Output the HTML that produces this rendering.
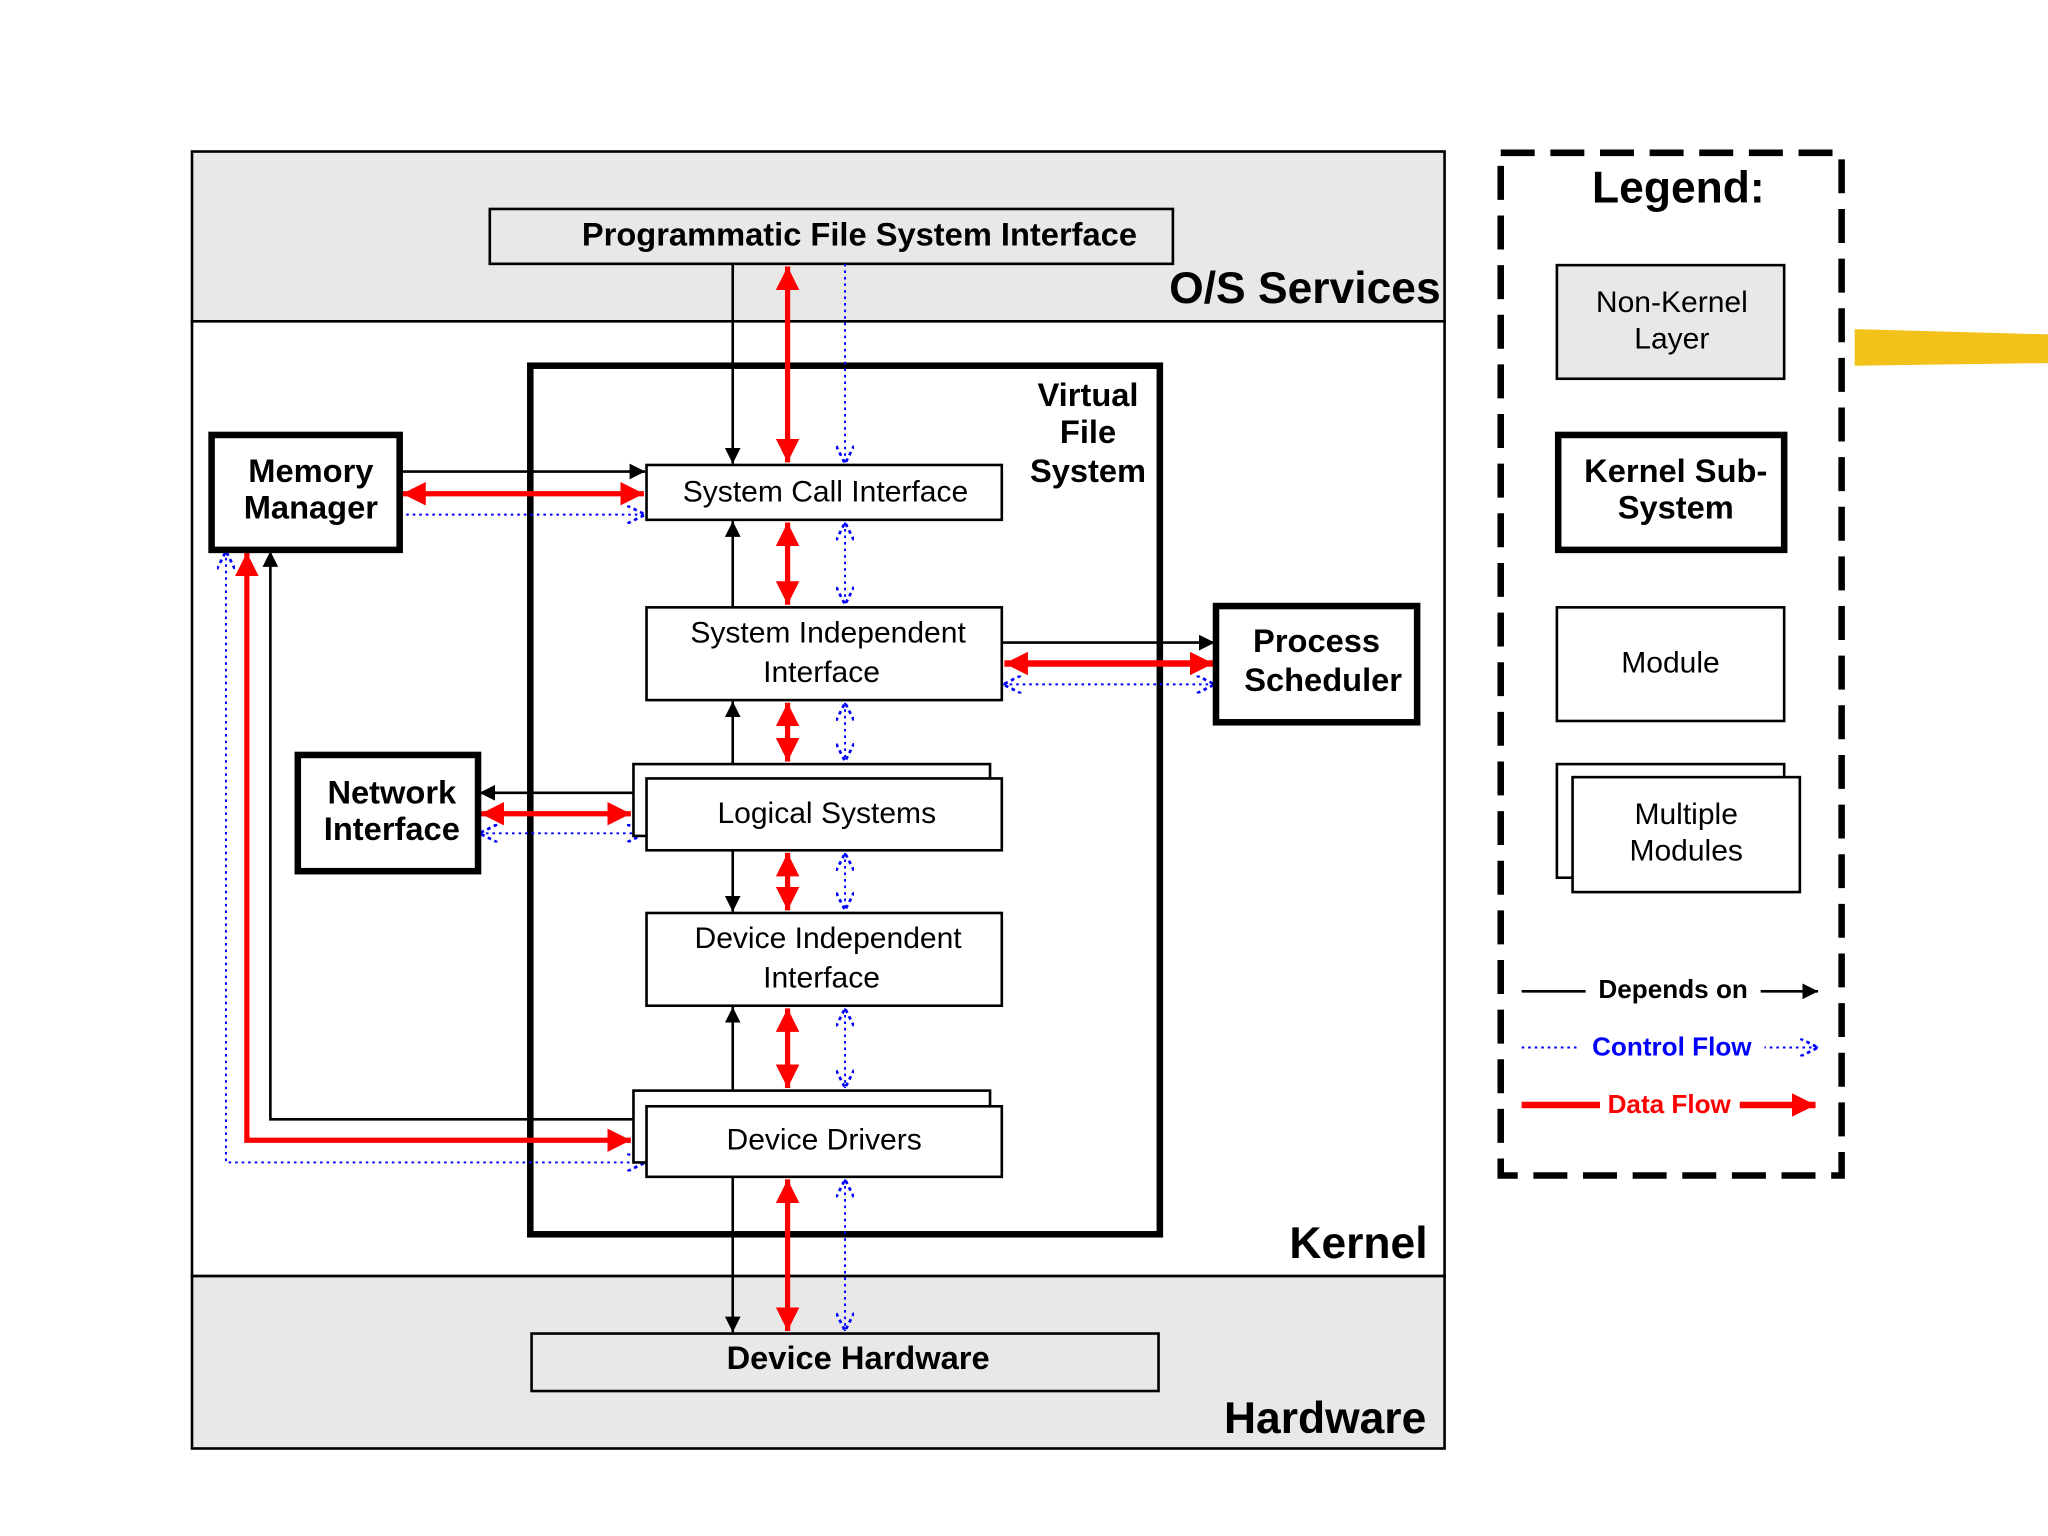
<!DOCTYPE html>
<html><head><meta charset="utf-8"><style>
html,body{margin:0;padding:0;background:#fff;}
svg{display:block;}
text{font-family:"Liberation Sans",sans-serif;}
.m{font-size:23px;fill:#000;}
.b{font-size:25px;font-weight:bold;fill:#000;}
</style></head><body>
<svg width="2048" height="1536" viewBox="0 0 1568 1176" xmlns="http://www.w3.org/2000/svg">
<defs>
<marker id="ak" viewBox="0 0 10 10" refX="10" refY="5" markerWidth="12" markerHeight="12" markerUnits="userSpaceOnUse" orient="auto-start-reverse"><path d="M0,0L10,5L0,10z" fill="#000"/></marker>
<marker id="ar" viewBox="0 0 10 10" refX="10" refY="5" markerWidth="18" markerHeight="18" markerUnits="userSpaceOnUse" orient="auto-start-reverse"><path d="M0,0L10,5L0,10z" fill="#f00"/></marker>
<marker id="ab" viewBox="0 0 10 10" refX="10" refY="5" markerWidth="14" markerHeight="14" markerUnits="userSpaceOnUse" orient="auto-start-reverse"><path d="M0,0L10,5L0,10" fill="none" stroke="#00f" stroke-width="1.5" stroke-dasharray="2,2"/></marker>
</defs>
<rect width="1568" height="1176" fill="#fff"/>
<!-- yellow scribble -->
<path d="M1420,252 L1568,256 L1568,278 L1420,280z" fill="#f2c21a"/>
<!-- outer bands -->
<rect x="147" y="116" width="959" height="130" fill="#e8e8e8" stroke="#000" stroke-width="2"/>
<rect x="147" y="246" width="959" height="731" fill="#fff" stroke="#000" stroke-width="2"/>
<rect x="147" y="977" width="959" height="132" fill="#e8e8e8" stroke="#000" stroke-width="2"/>
<text x="1103" y="232" text-anchor="end" style="font-size:34px;font-weight:bold">O/S Services</text>
<text x="1093" y="963" text-anchor="end" style="font-size:34px;font-weight:bold">Kernel</text>
<text x="1092" y="1097" text-anchor="end" style="font-size:34px;font-weight:bold">Hardware</text>
<rect x="375" y="160" width="523" height="42" fill="#e8e8e8" stroke="#000" stroke-width="2"/>
<text x="658" y="188" text-anchor="middle" class="b">Programmatic File System Interface</text>
<!-- VFS -->
<rect x="406" y="280" width="482" height="665" fill="none" stroke="#000" stroke-width="5"/>
<text x="833" y="311" text-anchor="middle" class="b">Virtual</text>
<text x="833" y="339" text-anchor="middle" class="b">File</text>
<text x="833" y="369" text-anchor="middle" class="b">System</text>
<!-- connectors vertical -->
<g fill="none">
<line x1="561" y1="202" x2="561" y2="355" stroke="#000" stroke-width="2" marker-end="url(#ak)"/>
<line x1="603" y1="204" x2="603" y2="354" stroke="#f00" stroke-width="4" marker-start="url(#ar)" marker-end="url(#ar)"/>
<line x1="647" y1="202" x2="647" y2="355" stroke="#00f" stroke-width="1.5" stroke-dasharray="2,3" marker-end="url(#ab)"/>
<line x1="561" y1="465" x2="561" y2="399" stroke="#000" stroke-width="2" marker-end="url(#ak)"/>
<line x1="603" y1="400" x2="603" y2="463" stroke="#f00" stroke-width="4" marker-start="url(#ar)" marker-end="url(#ar)"/>
<line x1="647" y1="400" x2="647" y2="463" stroke="#00f" stroke-width="1.5" stroke-dasharray="2,3" marker-start="url(#ab)" marker-end="url(#ab)"/>
<line x1="561" y1="585" x2="561" y2="537" stroke="#000" stroke-width="2" marker-end="url(#ak)"/>
<line x1="603" y1="538" x2="603" y2="583" stroke="#f00" stroke-width="4" marker-start="url(#ar)" marker-end="url(#ar)"/>
<line x1="647" y1="538" x2="647" y2="583" stroke="#00f" stroke-width="1.5" stroke-dasharray="2,3" marker-start="url(#ab)" marker-end="url(#ab)"/>
<line x1="561" y1="651" x2="561" y2="698" stroke="#000" stroke-width="2" marker-end="url(#ak)"/>
<line x1="603" y1="653" x2="603" y2="697" stroke="#f00" stroke-width="4" marker-start="url(#ar)" marker-end="url(#ar)"/>
<line x1="647" y1="653" x2="647" y2="697" stroke="#00f" stroke-width="1.5" stroke-dasharray="2,3" marker-start="url(#ab)" marker-end="url(#ab)"/>
<line x1="561" y1="835" x2="561" y2="771" stroke="#000" stroke-width="2" marker-end="url(#ak)"/>
<line x1="603" y1="772" x2="603" y2="833" stroke="#f00" stroke-width="4" marker-start="url(#ar)" marker-end="url(#ar)"/>
<line x1="647" y1="772" x2="647" y2="833" stroke="#00f" stroke-width="1.5" stroke-dasharray="2,3" marker-start="url(#ab)" marker-end="url(#ab)"/>
<line x1="561" y1="901" x2="561" y2="1020" stroke="#000" stroke-width="2" marker-end="url(#ak)"/>
<line x1="603" y1="903" x2="603" y2="1019" stroke="#f00" stroke-width="4" marker-start="url(#ar)" marker-end="url(#ar)"/>
<line x1="647" y1="903" x2="647" y2="1019" stroke="#00f" stroke-width="1.5" stroke-dasharray="2,3" marker-start="url(#ab)" marker-end="url(#ab)"/>
<!-- horizontal MM-SCI -->
<line x1="306" y1="361" x2="494" y2="361" stroke="#000" stroke-width="2" marker-end="url(#ak)"/>
<line x1="308" y1="378" x2="493" y2="378" stroke="#f00" stroke-width="4" marker-start="url(#ar)" marker-end="url(#ar)"/>
<line x1="306" y1="394" x2="494" y2="394" stroke="#00f" stroke-width="1.5" stroke-dasharray="2,3" marker-end="url(#ab)"/>
<!-- SII-PS -->
<line x1="767" y1="492" x2="930" y2="492" stroke="#000" stroke-width="2" marker-end="url(#ak)"/>
<line x1="769" y1="508" x2="929" y2="508" stroke="#f00" stroke-width="5" marker-start="url(#ar)" marker-end="url(#ar)"/>
<line x1="768" y1="524" x2="930" y2="524" stroke="#00f" stroke-width="1.5" stroke-dasharray="2,3" marker-start="url(#ab)" marker-end="url(#ab)"/>
<!-- NI-LS -->
<line x1="485" y1="607" x2="367" y2="607" stroke="#000" stroke-width="2" marker-end="url(#ak)"/>
<line x1="368" y1="623" x2="483" y2="623" stroke="#f00" stroke-width="4" marker-start="url(#ar)" marker-end="url(#ar)"/>
<line x1="367" y1="638" x2="494" y2="638" stroke="#00f" stroke-width="1.5" stroke-dasharray="2,3" marker-start="url(#ab)" marker-end="url(#ab)"/>
<!-- DD-MM -->
<polyline points="485,857 207,857 207,422" stroke="#000" stroke-width="2" marker-end="url(#ak)"/>
<polyline points="189,423 189,873 483,873" stroke="#f00" stroke-width="4" marker-start="url(#ar)" marker-end="url(#ar)"/>
<polyline points="173,422 173,890 494,890" stroke="#00f" stroke-width="1.5" stroke-dasharray="2,3" marker-start="url(#ab)" marker-end="url(#ab)"/>
</g>
<!-- boxes -->
<rect x="162" y="333" width="144" height="88" fill="#fff" stroke="#000" stroke-width="5"/>
<text x="238" y="369" text-anchor="middle" class="b">Memory</text>
<text x="238" y="397" text-anchor="middle" class="b">Manager</text>
<rect x="495" y="356" width="272" height="42" fill="#fff" stroke="#000" stroke-width="2"/>
<text x="632" y="384" text-anchor="middle" class="m">System Call Interface</text>
<rect x="495" y="465" width="272" height="71" fill="#fff" stroke="#000" stroke-width="2"/>
<text x="634" y="492" text-anchor="middle" class="m">System Independent</text>
<text x="629" y="522" text-anchor="middle" class="m">Interface</text>
<rect x="931" y="464" width="154" height="89" fill="#fff" stroke="#000" stroke-width="5"/>
<text x="1008" y="499" text-anchor="middle" class="b">Process</text>
<text x="1013" y="529" text-anchor="middle" class="b">Scheduler</text>
<rect x="228" y="578" width="138" height="89" fill="#fff" stroke="#000" stroke-width="5"/>
<text x="300" y="615" text-anchor="middle" class="b">Network</text>
<text x="300" y="643" text-anchor="middle" class="b">Interface</text>
<rect x="485" y="585" width="273" height="55" fill="#fff" stroke="#000" stroke-width="2"/>
<rect x="495" y="596" width="272" height="55" fill="#fff" stroke="#000" stroke-width="2"/>
<text x="633" y="630" text-anchor="middle" class="m">Logical Systems</text>
<rect x="495" y="699" width="272" height="71" fill="#fff" stroke="#000" stroke-width="2"/>
<text x="634" y="726" text-anchor="middle" class="m">Device Independent</text>
<text x="629" y="756" text-anchor="middle" class="m">Interface</text>
<rect x="485" y="835" width="273" height="55" fill="#fff" stroke="#000" stroke-width="2"/>
<rect x="495" y="847" width="272" height="54" fill="#fff" stroke="#000" stroke-width="2"/>
<text x="631" y="880" text-anchor="middle" class="m">Device Drivers</text>
<rect x="407" y="1021" width="480" height="44" fill="#e8e8e8" stroke="#000" stroke-width="2"/>
<text x="657" y="1048" text-anchor="middle" class="b">Device Hardware</text>
<!-- legend -->
<rect x="1149" y="117" width="261" height="783" fill="#fff" stroke="#000" stroke-width="5" stroke-dasharray="26,12"/>
<text x="1285" y="155" text-anchor="middle" style="font-size:34px;font-weight:bold">Legend:</text>
<rect x="1192" y="203" width="174" height="87" fill="#e8e8e8" stroke="#000" stroke-width="2"/>
<text x="1280" y="239" text-anchor="middle" class="m">Non-Kernel</text>
<text x="1280" y="267" text-anchor="middle" class="m">Layer</text>
<rect x="1193" y="333" width="173" height="88" fill="#fff" stroke="#000" stroke-width="5"/>
<text x="1283" y="369" text-anchor="middle" class="b">Kernel Sub-</text>
<text x="1283" y="397" text-anchor="middle" class="b">System</text>
<rect x="1192" y="465" width="174" height="87" fill="#fff" stroke="#000" stroke-width="2"/>
<text x="1279" y="515" text-anchor="middle" class="m">Module</text>
<rect x="1192" y="585" width="174" height="87" fill="#fff" stroke="#000" stroke-width="2"/>
<rect x="1204" y="595" width="174" height="88" fill="#fff" stroke="#000" stroke-width="2"/>
<text x="1291" y="631" text-anchor="middle" class="m">Multiple</text>
<text x="1291" y="659" text-anchor="middle" class="m">Modules</text>
<line x1="1165" y1="759" x2="1392" y2="759" stroke="#000" stroke-width="2" marker-end="url(#ak)"/>
<rect x="1214" y="745" width="134" height="26" fill="#fff"/>
<text x="1281" y="764" text-anchor="middle" style="font-size:20px;font-weight:bold">Depends on</text>
<line x1="1165" y1="802" x2="1392" y2="802" stroke="#00f" stroke-width="1.5" stroke-dasharray="2,3" marker-end="url(#ab)"/>
<rect x="1209" y="788" width="142" height="26" fill="#fff"/>
<text x="1280" y="808" text-anchor="middle" style="font-size:20px;font-weight:bold;fill:#00f">Control Flow</text>
<line x1="1165" y1="846" x2="1390" y2="846" stroke="#f00" stroke-width="5" marker-end="url(#ar)"/>
<rect x="1225" y="832" width="107" height="26" fill="#fff"/>
<text x="1278" y="852" text-anchor="middle" style="font-size:20px;font-weight:bold;fill:#f00">Data Flow</text>
</svg>
</body></html>
